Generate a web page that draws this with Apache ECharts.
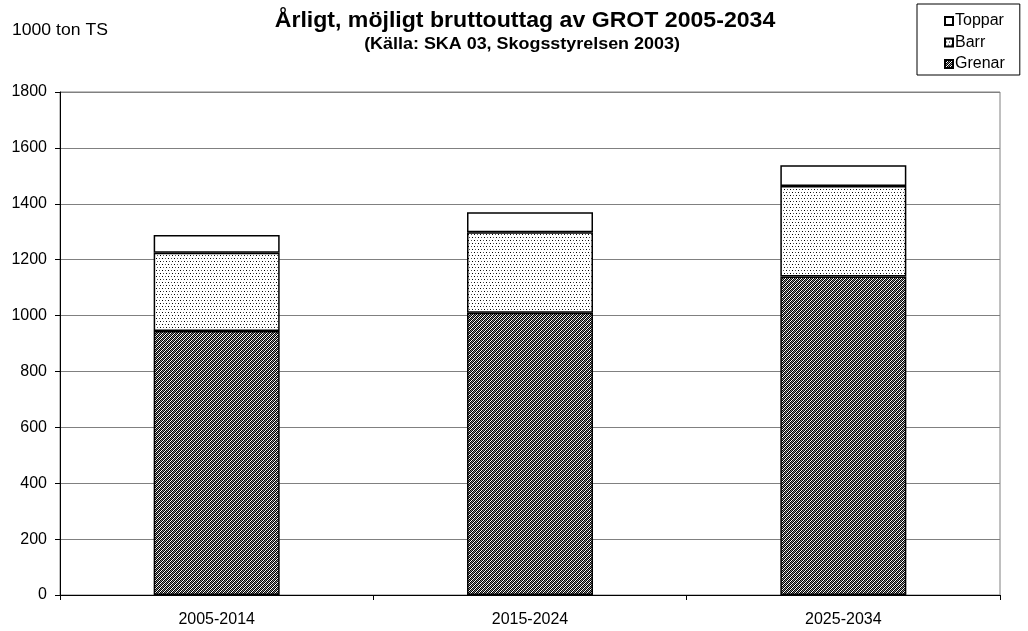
<!DOCTYPE html>
<html>
<head>
<meta charset="utf-8">
<script src="https://cdn.jsdelivr.net/npm/echarts@6/dist/echarts.min.js"></script>
<style>
  html, body { margin: 0; padding: 0; background: #fff; }
  #chart { width: 1028px; height: 631px; }
</style>
</head>
<body>
<div id="chart"></div>
<script>
// data
var periods = ['2005-2014', '2015-2024', '2025-2034'];
var grenar = [945, 1010, 1140];
var barr = [280, 288, 324];
var toppar = [63, 72, 74];
var yTicks = [0, 200, 400, 600, 800, 1000, 1200, 1400, 1600, 1800];

// small pixel tiles for the hatch fills
function makeTile(rows) {
	var c = document.createElement('canvas');
	c.width = rows[0].length;
	c.height = rows.length;
	var ctx = c.getContext('2d');
	var cols = { K: '#000', G: '#8a8a8a', W: '#fff', L: '#555' };
	for (var y = 0; y < rows.length; y++) {
		for (var x = 0; x < rows[y].length; x++) {
			ctx.fillStyle = cols[rows[y][x]];
			ctx.fillRect(x, y, 1, 1);
		}
	}
	return c;
}
var grenarTile = makeTile(['KGKW', 'GKWK', 'KWKG', 'WKGK']);
var barrTile = makeTile(['KWWLWW', 'WWWWWW', 'WWWWWW', 'WLWWKW', 'WWWWWW', 'WWWWWW']);

var font = 'Liberation Sans, Arial, sans-serif';

var chart = echarts.init(document.getElementById('chart'));

var option = {
	animation: false,
	textStyle: { fontFamily: font },
	graphic: [
		{ type: 'text', x: 12, y: 31, style: { text: '1000 ton TS', font: '16px ' + font, fill: '#000', verticalAlign: 'middle' }, scaleX: 1.1 },
		{ type: 'text', x: 525, y: 21, scaleX: 1.05, style: { text: 'Årligt, möjligt bruttouttag av GROT 2005-2034', font: 'bold 22px ' + font, fill: '#000', align: 'center', verticalAlign: 'middle' } },
		{ type: 'text', x: 522, y: 45, scaleX: 1.12, style: { text: '(Källa: SKA 03, Skogsstyrelsen 2003)', font: 'bold 16px ' + font, fill: '#000', align: 'center', verticalAlign: 'middle' } }
	],
	legend: {
		orient: 'vertical',
		left: 917,
		top: 4,
		data: ['Toppar', 'Barr', 'Grenar'],
		itemWidth: 8,
		itemHeight: 8,
		itemGap: 5.5,
		icon: 'rect',
		borderColor: '#000',
		borderWidth: 1,
		borderRadius: 0,
		padding: [9, 15, 3, 27],
		textStyle: { fontSize: 16, lineHeight: 16, color: '#000', fontFamily: font, padding: [0, 0, 0, -3] }
	},
	grid: {
		left: 60,
		right: 28,
		top: 92,
		bottom: 36,
		show: true,
		borderColor: '#808080',
		borderWidth: 1
	},
	xAxis: {
		type: 'category',
		data: periods,
		axisLine: { lineStyle: { color: '#000', width: 1 } },
		axisTick: { show: true, length: 5, lineStyle: { color: '#000' } },
		axisLabel: { color: '#000', fontSize: 16, margin: 17 }
	},
	yAxis: {
		type: 'value',
		min: 0,
		max: 1800,
		interval: 200,
		axisLine: { show: true, lineStyle: { color: '#000', width: 1 } },
		axisTick: { show: true, length: 5, lineStyle: { color: '#000' } },
		axisLabel: {
			color: '#000', fontSize: 16, margin: 13,
			formatter: function (v) { return yTicks.indexOf(v) >= 0 ? String(v) : ''; }
		},
		splitLine: { lineStyle: { color: '#808080', width: 1 } }
	},
	series: [
		{
			name: 'Grenar', type: 'bar', stack: 'grot', barWidth: 126, data: grenar,
			itemStyle: { color: { image: grenarTile, repeat: 'repeat' }, borderColor: '#000', borderWidth: 1.5 }
		},
		{
			name: 'Barr', type: 'bar', stack: 'grot', barWidth: 126, data: barr,
			itemStyle: { color: { image: barrTile, repeat: 'repeat' }, borderColor: '#000', borderWidth: 1.5 }
		},
		{
			name: 'Toppar', type: 'bar', stack: 'grot', barWidth: 126, data: toppar,
			itemStyle: { color: '#fff', borderColor: '#000', borderWidth: 1.5 }
		}
	]
};

chart.setOption(option);
</script>
</body>
</html>
